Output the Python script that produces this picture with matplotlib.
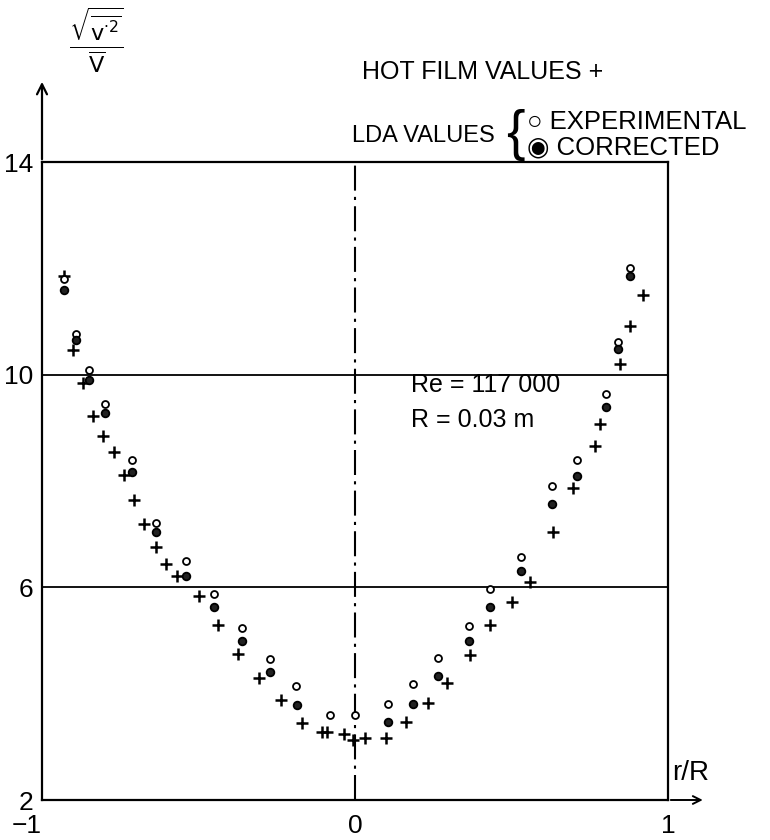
import matplotlib
matplotlib.use('Agg')
import matplotlib.pyplot as plt
import numpy as np

plt.rcParams['font.family'] = ['Liberation Sans', 'DejaVu Sans']

# hot film values (+)
hf_r = [-0.93, -0.90, -0.869, -0.836, -0.804, -0.77, -0.738, -0.706, -0.674, -0.637,
        -0.605, -0.568, -0.50, -0.439, -0.373, -0.307, -0.236, -0.168, -0.106, -0.09,
        -0.035, -0.006, 0.031, 0.099, 0.162, 0.233, 0.293, 0.368, 0.431, 0.502,
        0.56, 0.632, 0.697, 0.766, 0.784, 0.846, 0.878, 0.919]
hf_v = [11.85, 10.46, 9.84, 9.23, 8.84, 8.54, 8.12, 7.65, 7.20, 6.76,
        6.44, 6.22, 5.84, 5.30, 4.75, 4.29, 3.88, 3.44, 3.27, 3.27,
        3.25, 3.12, 3.16, 3.17, 3.47, 3.83, 4.21, 4.72, 5.30, 5.72,
        6.10, 7.04, 7.86, 8.66, 9.08, 10.20, 10.91, 11.5]

# LDA experimental (open circles)
exp_r = [-0.93, -0.892, -0.85, -0.80, -0.712, -0.636, -0.54, -0.452, -0.362, -0.271,
         -0.189, -0.079, 0.0, 0.107, 0.186, 0.265, 0.363, 0.431, 0.531, 0.63,
         0.709, 0.803, 0.841, 0.878]
exp_v = [11.8, 10.77, 10.08, 9.44, 8.39, 7.21, 6.49, 5.87, 5.24, 4.65,
         4.14, 3.59, 3.60, 3.80, 4.18, 4.67, 5.27, 5.97, 6.57, 7.90,
         8.40, 9.64, 10.62, 12.0]

# LDA corrected (dotted circles)
cor_r = [-0.93, -0.892, -0.85, -0.80, -0.712, -0.636, -0.54, -0.449, -0.362, -0.271,
         -0.184, 0.107, 0.186, 0.265, 0.363, 0.431, 0.531, 0.63, 0.709, 0.803,
         0.841, 0.878]
cor_v = [11.6, 10.66, 9.9, 9.27, 8.17, 7.04, 6.22, 5.63, 4.99, 4.40,
         3.79, 3.46, 3.80, 4.34, 4.99, 5.63, 6.30, 7.56, 8.09, 9.39,
         10.48, 11.85]

y_ticks = [2, 6, 10, 14]
x_ticks = [-1, 0, 1]
x_labels = ['\u22121', '0', '1']

fig = plt.figure(figsize=(7.7, 8.4), dpi=100)
ax = fig.add_axes([42/770, 40/840, 626/770, 638/840])
ax.set_xlim(-1, 1)
ax.set_ylim(2, 14)

for s in ax.spines.values():
    s.set_linewidth(1.6)
    s.set_color('black')

# grid lines and centre line
for yv in [6, 10]:
    ax.axhline(yv, color='black', lw=1.3, zorder=1)
ax.axvline(0, color='black', lw=1.5, ls=(0, (12, 3, 1.5, 3)), zorder=1)

ax.plot(hf_r, hf_v, ls='none', marker='+', ms=9, mew=1.8, color='black')
ax.plot(exp_r, exp_v, ls='none', marker='o', ms=5, mew=1.3, mfc='white', mec='black')
ax.plot(cor_r, cor_v, ls='none', marker='o', ms=5.5, mew=1.3, mfc='#222222', mec='black')

ax.set_xticks(x_ticks)
ax.set_xticklabels(x_labels, fontsize=19)
ax.set_yticks(y_ticks)
ax.set_yticklabels([str(t) for t in y_ticks], fontsize=19)
ax.tick_params(axis='x', length=0, pad=10)
ax.tick_params(axis='y', length=0, pad=6)
# the -1 sits a little left of the axis line in the original
ax.get_xticklabels()[0].set_horizontalalignment('right')

# arrows extending the axes
ax.annotate('', xy=(0, 1.13), xytext=(0, 1.0), xycoords='axes fraction',
            arrowprops=dict(arrowstyle='->', lw=1.6, color='black',
                            mutation_scale=18), annotation_clip=False)
ax.annotate('', xy=(1.06, 0), xytext=(1.0, 0), xycoords='axes fraction',
            arrowprops=dict(arrowstyle='->', lw=1.4, color='black',
                            mutation_scale=14), annotation_clip=False)

fig.text(672/770, 1 - 773/840, 'r/R', fontsize=20, va='center', ha='left')
fig.text(96/770, 1 - 40/840,
         r'$\frac{\sqrt{\overline{\mathrm{v}^{\cdot 2}}}}{\overline{\mathrm{V}}}$',
         fontsize=23, va='center', ha='center')

# legend text
fig.text(362/770, 1 - 72/840, 'HOT FILM VALUES +', fontsize=18, va='center', ha='left')
fig.text(352/770, 1 - 136/840, 'LDA VALUES', fontsize=17, va='center', ha='left')
fig.text(506/770, 1 - 135/840, '{', fontsize=40, va='center', ha='left',
         fontweight='light')
fig.text(527/770, 1 - 122/840, '\u25cb EXPERIMENTAL', fontsize=18.5, va='center', ha='left')
fig.text(527/770, 1 - 148/840, '\u25c9 CORRECTED', fontsize=18.5, va='center', ha='left')

ax.text(0.179, 9.8, 'Re = 117 000', fontsize=18, va='center', ha='left')
ax.text(0.179, 9.15, 'R = 0.03 m', fontsize=18, va='center', ha='left')

fig.savefig('out.png', dpi=100)
